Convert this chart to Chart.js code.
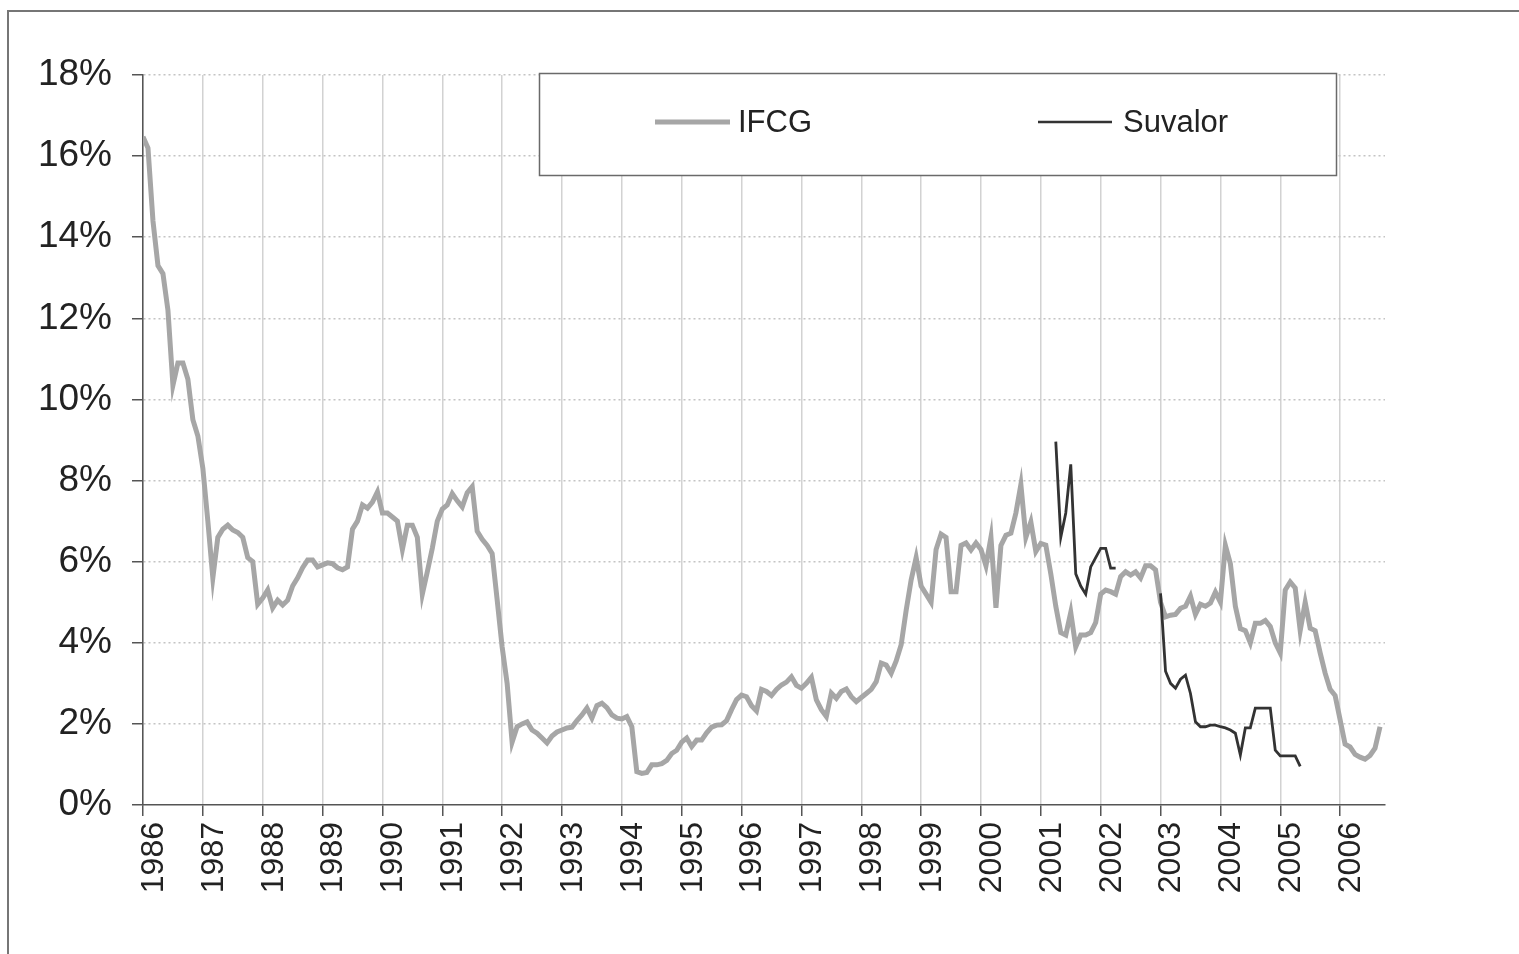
<!DOCTYPE html>
<html>
<head>
<meta charset="utf-8">
<script src="https://cdn.jsdelivr.net/npm/chart.js@4"></script>
<style>
    html, body { margin: 0; padding: 0; background: #ffffff; overflow: hidden; }
    #frame {
        position: absolute; left: 7px; top: 10px; width: 1700px; height: 1100px;
        border-left: 2px solid #767676; border-top: 2px solid #767676;
    }
    #wrap { position: absolute; left: 0; top: 0; width: 1519px; height: 954px; }
</style>
</head>
<body>
<div id="frame"></div>
<div id="wrap"><canvas id="chart"></canvas></div>
<script>
// 目盛り（年）
const years = [1986, 1987, 1988, 1989, 1990, 1991, 1992, 1993, 1994, 1995, 1996,
    1997, 1998, 1999, 2000, 2001, 2002, 2003, 2004, 2005, 2006];
const yTicks = [0, 2, 4, 6, 8, 10, 12, 14, 16, 18];

// IFCG 月次 (1986-01 から)
const ifcgStart = [1986, 1];
const ifcg = [
    16.48, 16.2, 14.4, 13.3, 13.1, 12.2, 10.35, 10.9, 10.9, 10.5, 9.5, 9.1,
    8.3, 7.0, 5.6, 6.6, 6.8, 6.9, 6.78, 6.72, 6.6, 6.1, 6.0, 4.95,
    5.1, 5.3, 4.86, 5.05, 4.93, 5.05, 5.4, 5.6, 5.85, 6.04, 6.04, 5.87,
    5.92, 5.97, 5.95, 5.85, 5.8, 5.87, 6.8, 7.0, 7.4, 7.32, 7.47, 7.72,
    7.2, 7.2, 7.1, 7.0, 6.3, 6.9, 6.9, 6.6, 5.2, 5.75, 6.33, 7.0,
    7.3, 7.4, 7.68, 7.5, 7.35, 7.7, 7.85, 6.75, 6.55, 6.4, 6.2, 5.06,
    3.9, 3.0, 1.55, 1.93, 2.0, 2.05, 1.85, 1.77, 1.65, 1.53, 1.7, 1.8,
    1.85, 1.9, 1.92, 2.08, 2.22, 2.39, 2.14, 2.45, 2.51, 2.4, 2.22, 2.14,
    2.12, 2.18, 1.93, 0.82, 0.78, 0.8, 0.99, 0.99, 1.02, 1.1, 1.27, 1.35,
    1.55, 1.65, 1.44, 1.6, 1.6, 1.78, 1.92, 1.97, 1.98, 2.08, 2.35, 2.6,
    2.71, 2.67, 2.45, 2.32, 2.85, 2.8, 2.7, 2.85, 2.96, 3.03, 3.16, 2.95,
    2.88, 3.0, 3.15, 2.59, 2.35, 2.18, 2.76, 2.63, 2.8, 2.86, 2.67, 2.55,
    2.65, 2.75, 2.85, 3.04, 3.5, 3.45, 3.25, 3.55, 3.95, 4.8, 5.55, 6.1,
    5.4, 5.2, 5.0, 6.3, 6.68, 6.6, 5.26, 5.26, 6.4, 6.46, 6.29, 6.46,
    6.3, 5.9, 6.6, 4.86, 6.4, 6.65, 6.7, 7.2, 7.9, 6.6, 6.98, 6.25,
    6.45, 6.41, 5.7, 4.9, 4.25, 4.19, 4.75, 3.9, 4.19, 4.19, 4.25, 4.5,
    5.2, 5.3, 5.26, 5.2, 5.63, 5.75, 5.67, 5.75, 5.6, 5.9, 5.9, 5.8,
    5.0, 4.64, 4.68, 4.7, 4.85, 4.9, 5.15, 4.7, 4.95, 4.9, 4.98, 5.25,
    5.0, 6.4, 5.95, 4.9, 4.35, 4.3, 4.0, 4.48, 4.48, 4.55, 4.4, 4.0,
    3.75, 5.3, 5.5, 5.35, 4.3, 5.0, 4.36, 4.3, 3.75, 3.25, 2.85, 2.7,
    2.1, 1.5, 1.43, 1.25, 1.18, 1.13, 1.22, 1.4, 1.93,
];

// Suvalor 月次 (2001-04 から、欠損は null)
const suvalorStart = [2001, 4];
const suvalor = [
    8.96, 6.6, 7.2, 8.4, 5.7, 5.4, 5.2, 5.87, 6.1, 6.33, 6.33, 5.84, 5.84,
    null, null, null, null, null, null, null, null,
    5.22, 3.3, 3.0, 2.88, 3.1, 3.2, 2.75, 2.05, 1.93, 1.93, 1.97, 1.97,
    1.93, 1.9, 1.85, 1.77, 1.23, 1.9, 1.9, 2.39, 2.39, 2.39, 2.39, 1.35,
    1.21, 1.21, 1.21, 1.21, 0.95,
];

const seriesNames = ['IFCG', 'Suvalor'];
const seriesColors = ['#a6a6a6', '#333333'];

// 月次配列を {x: 年(小数), y} に変換
const toPoints = (start, values) =>
    values.map((v, i) => ({ x: start[0] + (start[1] - 1 + i) / 12, y: v }));

const FONT = "'Liberation Sans', Arial, sans-serif";
Chart.defaults.font.family = FONT;
Chart.defaults.color = '#222222';

// 凡例（枠付き）をチャート内に描画するプラグイン
const boxLegend = {
    id: 'boxLegend',
    afterDraw: (chart) => {
        const ctx = chart.ctx;
        ctx.save();
        ctx.fillStyle = '#ffffff';
        ctx.fillRect(539, 73, 797, 103);
        ctx.strokeStyle = '#6a6a6a';
        ctx.lineWidth = 1.5;
        ctx.strokeRect(539.5, 73.5, 797, 102);

        const items = [
            { x0: 655, x1: 730, tx: 738, width: 5 },
            { x0: 1038, x1: 1112, tx: 1123, width: 2.5 },
        ];
        ctx.font = `31px ${FONT}`;
        ctx.textBaseline = 'middle';
        ctx.textAlign = 'left';
        items.forEach((it, i) => {
            ctx.strokeStyle = seriesColors[i];
            ctx.lineWidth = it.width;
            ctx.beginPath();
            ctx.moveTo(it.x0, 122);
            ctx.lineTo(it.x1, 122);
            ctx.stroke();
            ctx.fillStyle = '#222222';
            ctx.fillText(seriesNames[i], it.tx, 123);
        });
        ctx.restore();
    },
};

new Chart(document.getElementById('chart'), {
    type: 'line',
    data: {
        datasets: [
            {
                label: seriesNames[0],
                data: toPoints(ifcgStart, ifcg),
                borderColor: seriesColors[0],
                borderWidth: 5,
                pointRadius: 0,
                tension: 0,
                order: 2,
            },
            {
                label: seriesNames[1],
                data: toPoints(suvalorStart, suvalor),
                borderColor: seriesColors[1],
                borderWidth: 2.8,
                pointRadius: 0,
                tension: 0,
                spanGaps: false,
                order: 1,
            },
        ],
    },
    options: {
        responsive: true,
        maintainAspectRatio: false,
        animation: false,
        layout: { padding: { left: 0, right: 134, top: 75, bottom: 49 } },
        plugins: {
            legend: { display: false },
            tooltip: { enabled: false },
        },
        scales: {
            x: {
                type: 'linear',
                min: years[0],
                max: 2006.75,
                afterFit: (scale) => { scale.height = 100; },
                afterBuildTicks: (scale) => { scale.ticks = years.map((v) => ({ value: v })); },
                ticks: {
                    stepSize: 1,
                    includeBounds: false,
                    autoSkip: false,
                    minRotation: 90,
                    maxRotation: 90,
                    padding: 6,
                    labelOffset: 11,
                    font: { size: 32 },
                    color: '#222222',
                    callback: (v) => String(v),
                },
                grid: {
                    color: '#d2d2d2',
                    lineWidth: 1.5,
                    tickColor: '#555555',
                    tickLength: 11,
                },
                border: { color: '#555555', width: 1.5 },
            },
            y: {
                min: 0,
                max: 18,
                afterFit: (scale) => { scale.width = 143; },
                afterBuildTicks: (scale) => { scale.ticks = yTicks.map((v) => ({ value: v })); },
                ticks: {
                    stepSize: 2,
                    padding: 20,
                    font: { size: 37 },
                    color: '#222222',
                    callback: (v) => `${v}%`,
                },
                grid: {
                    color: (c) => (c.tick && c.tick.value === 0 ? 'rgba(0,0,0,0)' : '#c4c4c4'),
                    lineWidth: 1.5,
                    tickColor: '#555555',
                    tickLength: 11,
                },
                border: { color: '#555555', width: 1.5, dash: [2, 3] },
            },
        },
    },
    plugins: [boxLegend],
});
</script>
</body>
</html>
